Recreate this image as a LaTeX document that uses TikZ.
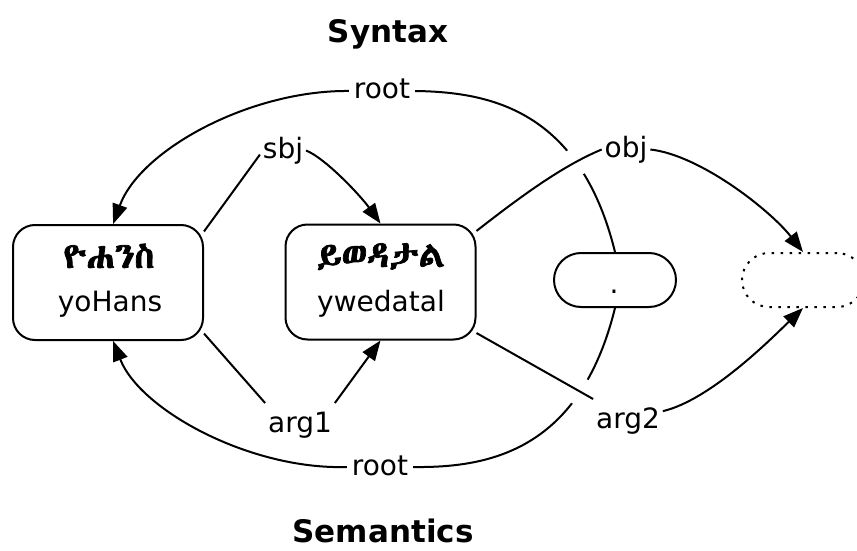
\documentclass[tikz,border=0pt]{standalone}
\usepackage{fontspec}
\setmainfont{DejaVu Sans}
\usetikzlibrary{arrows.meta}
\IfFontExistsTF{Abyssinica SIL}{\newfontfamily\ethfont[AutoFakeBold=2]{Abyssinica SIL}}{%
  \IfFontExistsTF{FreeSerif}{\newfontfamily\ethfont[AutoFakeBold=2]{FreeSerif}}{%
    \IfFontExistsTF{Noto Sans Ethiopic}{\newfontfamily\ethfont{Noto Sans Ethiopic}}{%
      \newfontfamily\ethfont{DejaVu Sans}}}}
\pgfdeclarelayer{background}
\pgfsetlayers{background,main}
\begin{document}
\begin{tikzpicture}[x=1pt,y=-1pt,line width=2pt,
  box/.style={draw,line width=2pt,fill=white,rounded corners=22pt,minimum width=190pt,minimum height=115pt,inner sep=0pt},
  pill/.style={draw,line width=2pt,fill=white,rounded corners=27pt,minimum width=122pt,minimum height=54pt,inner sep=0pt},
  ghost/.style={pill,dash pattern=on 2.5pt off 6.5pt},
  txt/.style={font=\fontsize{28}{34}\selectfont,anchor=base,inner sep=0pt},
  eth/.style={font=\fontsize{36}{40}\selectfont\ethfont\bfseries,anchor=base,inner sep=0pt},
  lbl/.style={font=\fontsize{28}{34}\selectfont,anchor=base,inner xsep=2pt,inner ysep=6pt,text height=22pt,text depth=7pt},
  rlbl/.style={font=\fontsize{28}{34}\selectfont,anchor=base,inner xsep=4pt,inner ysep=0pt,text height=16pt,text depth=0pt},
  title/.style={font=\fontsize{31}{37}\selectfont\bfseries,anchor=base},
  arr/.style={line width=2pt,-{Triangle[length=20pt,width=15pt]}},
  edge/.style={line width=2pt},
  halo/.style={edge,preaction={draw=white,line width=28pt}}]
\useasboundingbox (0,0) rectangle (857,551);
% titles
\node[title] (syn) at (388,43) {Syntax};
\node[title] (sem) at (383,542) {Semantics};
% boxes
\node[box] (yo) at (108,282.5) {};
\node[eth] (yoE) at (109,268) {ዮሐንስ};
\node[txt] (yoL) at (110,311) {yoHans};
\node[box] (yw) at (380.5,282) {};
\node[eth] (ywE) at (381,267) {ይወዳታል};
\node[txt] (ywL) at (381,311) {ywedatal};
\node[pill] (per) at (615,280) {};
\node[txt] (perT) at (614,293) {.};
\node[ghost] (dot) at (803,280) {};
% labels
\node[rlbl] (rootS) at (382,99) {root};
\node[rlbl] (rootB) at (380,475) {root};
\node[lbl] (sbj) at (283,158) {sbj};
\node[lbl] (obj) at (626,157) {obj};
\node[lbl] (arg1) at (300,432) {arg1};
\node[lbl] (arg2) at (628,428) {arg2};
\begin{pgfonlayer}{background}
  % root edges
  \draw[edge] (per.north) .. controls (580,110) and (490,92) .. (rootS.east);
  \draw[arr] (rootS.west) .. controls (250,90) and (140,150) .. (yo.85);
  \draw[edge] (per.south) .. controls (580,450) and (490,468) .. (rootB.east);
  \draw[arr] (rootB.west) .. controls (250,470) and (140,410) .. (yo.-85);
  % sbj
  \draw[edge] (yo.28) -- (sbj.190);
  \draw[arr] (sbj.east) .. controls (325,158) and (360,195) .. (yw.north);
  % arg1
  \draw[edge] (yo.-28) -- (arg1.north west);
  \draw[arr] (arg1.north east) -- (yw.south);
  % obj
  \draw[halo] (yw.28) .. controls (520,197) and (562,166) .. (obj.west);
  \draw[arr] (obj.east) .. controls (700,155) and (770,210) .. (dot.north);
  % arg2
  \draw[halo] (yw.-28) -- (arg2.north west);
  \draw[arr] (arg2.15) .. controls (710,400) and (770,340) .. (dot.south);
\end{pgfonlayer}
\end{tikzpicture}
\end{document}
